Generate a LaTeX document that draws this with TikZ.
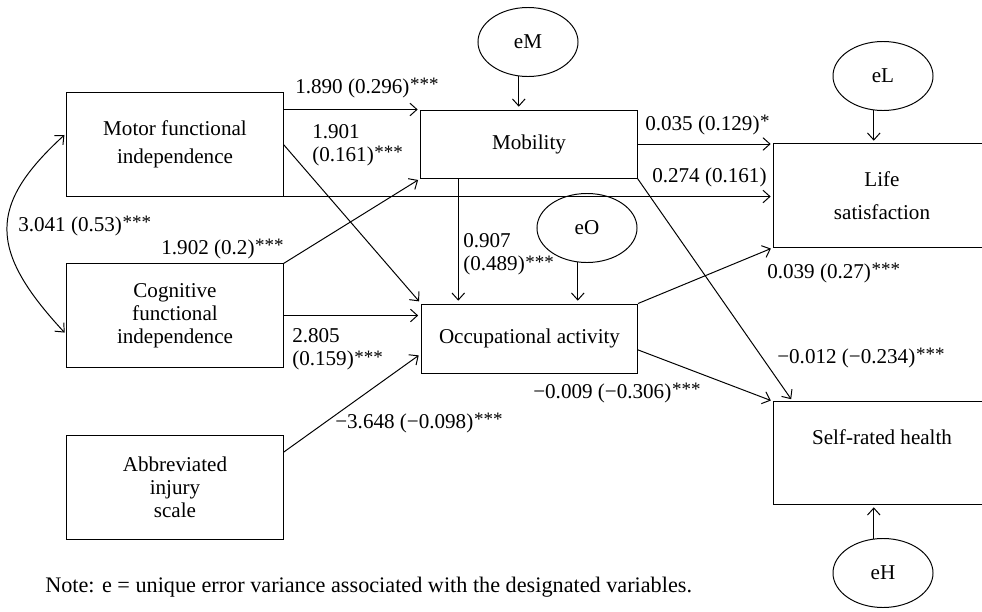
\documentclass[tikz,border=0pt]{standalone}
\usepackage{fontspec}
\setmainfont{Liberation Serif}
\usetikzlibrary{arrows.meta,shapes.geometric}
\newcommand{\sig}[1]{\hspace{0.5pt}\raisebox{0.12em}{\fontsize{13.5}{13.5}\selectfont #1}}
\tikzset{
	varbox/.style={draw, line width=0.7pt, minimum width=5.4cm, align=center, inner sep=0pt, font=\fontsize{15}{16.5}\selectfont},
	errnode/.style={draw, ellipse, line width=0.7pt, minimum width=2.5cm, minimum height=1.725cm, inner sep=0pt, font=\fontsize{15}{16.5}\selectfont},
	effect/.style={line width=0.7pt, -{Straight Barb[length=5pt,width=9pt]}, shorten >=2pt},
	coef/.style={inner sep=0pt, align=left, font=\fontsize{15}{16.5}\selectfont}
}
\begin{document}
\begin{tikzpicture}[x=0.025cm, y=-0.025cm]
		\useasboundingbox (0,0) rectangle (982,612);
		\clip (0,0) rectangle (982,612);
		\node[varbox, minimum height=2.575cm] (motor) at (175,144.5) {Motor functional\\[3pt] independence};
		\node[varbox, minimum height=2.575cm] (cogn) at (175,315.5) {Cognitive\\functional\\independence};
		\node[varbox, minimum height=2.575cm] (abbr) at (175,487.5) {Abbreviated\\injury\\scale};
		\node[varbox, minimum height=1.7cm] (mob) at (529,144) {Mobility};
		\node[varbox, minimum height=1.725cm] (occ) at (529.5,338.5) {Occupational activity};
		\node[varbox, minimum height=2.575cm] (life) at (882,195.5) {Life\\[7pt] satisfaction};
		\node[varbox, minimum height=2.55cm] (health) at (882,453) {Self-rated health\\[6pt]\mbox{}};
		\node[errnode] (eM) at (528,42) {eM};
		\node[errnode] (eL) at (883,76) {eL};
		\node[errnode] (eO) at (587,228) {eO};
		\node[errnode] (eH) at (883,573) {eH};
		\node[coef, anchor=west] (c1) at (295,88) {1.890 (0.296)\sig{***}};
		\node[coef, anchor=west] (c2) at (312,145) {1.901\\(0.161)\sig{***}};
		\node[coef, anchor=west] (c3) at (18,226) {3.041 (0.53)\sig{***}};
		\node[coef, anchor=east] (c4) at (284,249) {1.902 (0.2)\sig{***}};
		\node[coef, anchor=west] (c5) at (463,254.5) {0.907\\(0.489)\sig{***}};
		\node[coef, anchor=west] (c6) at (292,349.5) {2.805\\(0.159)\sig{***}};
		\node[coef, anchor=west] (c7) at (335,423) {−3.648 (−0.098)\sig{***}};
		\node[coef, anchor=west] (c8) at (645,125) {0.035 (0.129)\sig{*}};
		\node[coef, anchor=west] (c9) at (652,177) {0.274 (0.161)};
		\node[coef, anchor=west] (c10) at (767,273) {0.039 (0.27)\sig{***}};
		\node[coef, anchor=west] (c11) at (777,358) {−0.012 (−0.234)\sig{***}};
		\node[coef, anchor=west] (c12) at (533,393) {−0.009 (−0.306)\sig{***}};
		\node[coef, anchor=west, font=\fontsize{15.8}{17}\selectfont] (note) at (45,587) {Note: e = unique error variance associated with the designated variables.};
		\draw[effect] (motor.east |- mob.north) -- (mob.north west);
		\draw[effect] (motor.east) -- (occ.north west);
		\draw[effect] (motor.south east) -- (motor.south east -| life.west);
		\draw[effect] (cogn.north east) -- (mob.south west);
		\draw[effect] (cogn.east) -- (cogn.east -| occ.west);
		\draw[effect] (abbr.18) -- (occ.188);
		\draw[effect] (mob.206) -- (mob.206 |- occ.north);
		\draw[effect] (mob.east) -- (mob.east -| life.west);
		\draw[effect] (mob.south east) -- (health.150);
		\draw[effect] (occ.north east) -- (life.south west);
		\draw[effect] (occ.-6) -- (health.north west);
		\draw[effect] (eM.255) -- (eM.255 |- mob.north);
		\draw[effect] (eL.255) -- (eL.255 |- life.north);
		\draw[effect] (eO.255) -- (eO.255 |- occ.north);
		\draw[effect] (eH.105) -- (eH.105 |- health.south);
		\draw[effect, {Straight Barb[length=5pt,width=9pt]}-{Straight Barb[length=5pt,width=9pt]}, shorten <=2pt] (motor.174) .. controls (-12,205) and (-12,250) .. (cogn.190);
	\end{tikzpicture}
\end{document}
